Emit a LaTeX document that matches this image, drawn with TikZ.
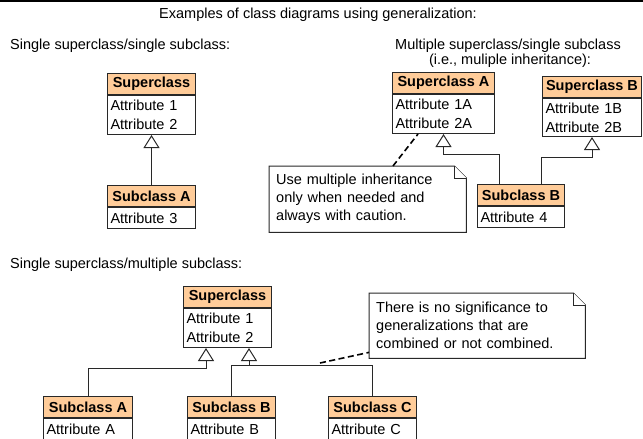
\documentclass[tikz,border=0pt]{standalone}
\usepackage{fontspec}
\setmainfont{Liberation Sans}
\usetikzlibrary{arrows.meta,calc}
\definecolor{peach}{RGB}{255,204,153}
\definecolor{edgec}{RGB}{40,40,40}
\tikzset{
  txt/.style={font=\fontsize{14.5}{18}\selectfont, inner sep=0pt},
  hdr/.style={draw=edgec, line width=1pt, fill=peach, anchor=north west,
    minimum height=21pt, inner sep=0pt, font=\fontsize{14.5}{18}\selectfont\bfseries},
  bodybox/.style={draw=edgec, line width=1pt, fill=white, anchor=north,
    inner xsep=3pt, inner ysep=0pt, align=left, font=\fontsize{14.5}{19}\selectfont},
  notebox/.style={anchor=north west, inner xsep=7pt, inner ysep=0pt, align=left,
    font=\fontsize{14.5}{18}\selectfont},
  noteline/.style={draw=edgec, line width=1pt, fill=white, line join=miter},
  gen/.style={draw=edgec, line width=1pt, -{Triangle[open,length=13pt,width=16pt,fill=white]}},
  plainline/.style={draw=edgec, line width=1pt},
  noteconn/.style={draw=black, line width=1.6pt, dash pattern=on 6pt off 3.5pt},
}
\newcommand\umlclass[7]{%
  \pgfmathsetmacro\tw{#4-6}%
  \node[hdr, minimum width=#4pt] (#1h) at (#2,#3) {#5};
  \node[bodybox, minimum width=#4pt, minimum height=#7pt, text width=\tw pt] (#1b) at (#1h.south) {#6};
}
\newcommand\umlnote[6]{%
  \pgfmathsetmacro\tw{#4-14}%
  \node[notebox, minimum width=#4pt, minimum height=#5pt, text width=\tw pt] (#1) at (#2,#3) {#6};
  \draw[noteline] (#1.south west) -- (#1.north west) -- ($(#1.north east)+(-12pt,0pt)$)
     -- ($(#1.north east)+(0pt,-12pt)$) -- (#1.south east) -- cycle;
  \draw[noteline] ($(#1.north east)+(-12pt,0pt)$) -- ($(#1.north east)+(-12pt,-12pt)$) -- ($(#1.north east)+(0pt,-12pt)$);
  \node[notebox, text width=\tw pt] at (#1.north west) [yshift=-{(#5pt-54pt)/2}] {#6};
}
\begin{document}
\begin{tikzpicture}[x=1pt,y=-1pt]
\useasboundingbox (0,0) rectangle (643,439);
\draw[line width=2pt] (0,1) -- (643,1);

\node[txt] (title) at (318,15) {Examples of class diagrams using generalization:};
\node[txt, anchor=west] (lab1) at (10,46) {Single superclass/single subclass:};
\node[txt] (lab2a) at (508,46) {Multiple superclass/single subclass};
\node[txt] (lab2b) at (510,61) {(i.e., muliple inheritance):};
\node[txt, anchor=west] (lab3) at (10,265) {Single superclass/multiple subclass:};

% top left
\umlclass{sup}{107}{73}{88}{Superclass}{Attribute 1\\Attribute 2}{39}
\umlclass{subA}{107}{185}{88}{Subclass A}{Attribute 3}{21}
\draw[gen] (subAh.north) -- (supb.south);

% top right
\umlclass{supA}{392}{72}{102}{Superclass A}{Attribute 1A\\Attribute 2A}{39}
\umlclass{supB}{542}{76}{99}{Superclass B}{Attribute 1B\\Attribute 2B}{38}
\umlclass{subB}{477}{184}{87}{Subclass B}{Attribute 4}{21}
\draw[gen] ($(subBh.north west)+(22pt,0pt)$) |- ($(supAb.south)+(0pt,-20pt)$) -- (supAb.south);
\draw[gen] ($(subBh.north west)+(64pt,0pt)$) |- ($(supBb.south)+(0pt,-20pt)$) -- (supBb.south);

\node[notebox, minimum width=197pt, minimum height=66pt, text width=183pt] (n1) at (269,166) {};
\draw[noteline] (n1.south west) -- (n1.north west) -- ($(n1.north east)+(-12pt,0pt)$)
   -- ($(n1.north east)+(0pt,-12pt)$) -- (n1.south east) -- cycle;
\draw[noteline] ($(n1.north east)+(-12pt,0pt)$) -- ($(n1.north east)+(-12pt,-12pt)$) -- ($(n1.north east)+(0pt,-12pt)$);
\node[notebox, anchor=west, text width=183pt] (n1t) at (n1.west) {Use multiple inheritance\\only when needed and\\always with caution.};
\draw[noteconn] ($(n1.north west)+(124pt,0pt)$) -- ($(supAb.south west)+(26pt,0pt)$);

% bottom
\umlclass{sup2}{183}{286}{88}{Superclass}{Attribute 1\\Attribute 2}{39}
\umlclass{subA2}{43}{396}{89}{Subclass A}{Attribute A}{21}
\umlclass{subB2}{187}{396}{88}{Subclass B}{Attribute B}{21}
\umlclass{subC2}{328}{396}{88}{Subclass C}{Attribute C}{21}
\draw[gen] (subA2h.north) |- ($(sup2b.south west)+(23pt,-20pt)$) -- ($(sup2b.south west)+(23pt,0pt)$);
\draw[gen] (subB2h.north) |- ($(sup2b.south west)+(66pt,-17pt)$) -- ($(sup2b.south west)+(66pt,0pt)$);
\draw[plainline] (subC2h.north) |- ($(sup2b.south west)+(66pt,-17pt)$);
\coordinate (j2) at (320,363);

\node[notebox, minimum width=216pt, minimum height=65pt, text width=202pt] (n2) at (369,293) {};
\draw[noteline] (n2.south west) -- (n2.north west) -- ($(n2.north east)+(-12pt,0pt)$)
   -- ($(n2.north east)+(0pt,-12pt)$) -- (n2.south east) -- cycle;
\draw[noteline] ($(n2.north east)+(-12pt,0pt)$) -- ($(n2.north east)+(-12pt,-12pt)$) -- ($(n2.north east)+(0pt,-12pt)$);
\node[notebox, anchor=west, text width=202pt] (n2t) at (n2.west) {There is no significance to\\generalizations that are\\combined or not combined.};
\draw[noteconn] (j2) -- ($(n2.south west)+(0pt,6pt)$);
\end{tikzpicture}
\end{document}
